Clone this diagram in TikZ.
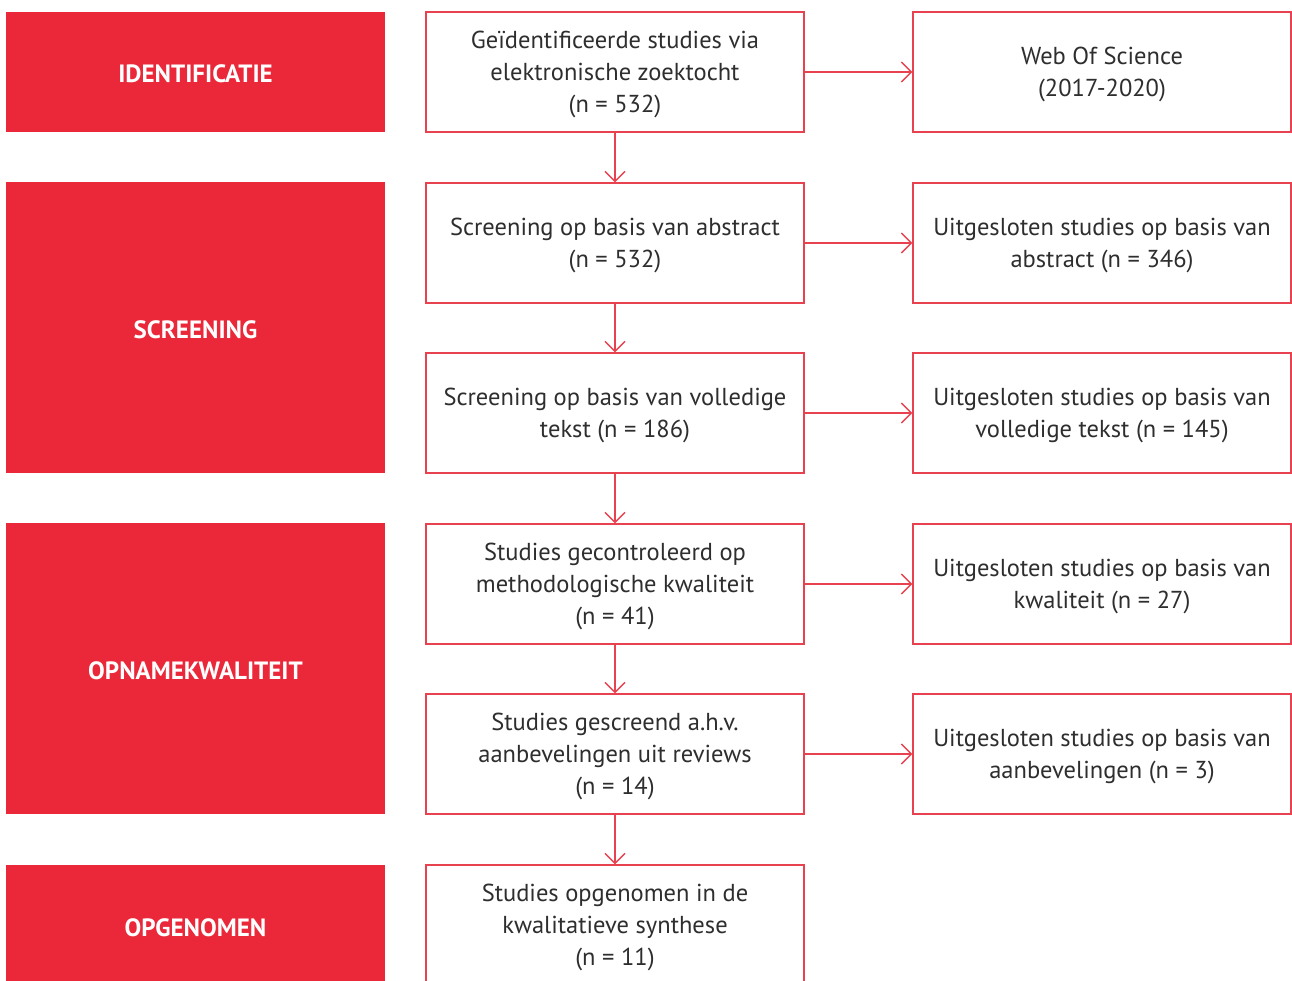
\documentclass[tikz,border=0pt]{standalone}
\usepackage{fontspec}
\setmainfont{PT Sans}
\usetikzlibrary{arrows.meta}
\definecolor{redfill}{HTML}{EA2839}
\definecolor{redline}{HTML}{E8414F}
\definecolor{txt}{HTML}{2E2E2E}
\begin{document}
\begin{tikzpicture}[x=1pt,y=-1pt,
  phase/.style={fill=redfill,draw=none,text=white,inner sep=0pt,text height=22pt,text depth=0pt,
    font=\fontsize{25}{30}\selectfont\bfseries},
  stepbox/.style={draw=redline,line width=1.4pt,fill=white,minimum width=378pt,minimum height=120pt,
    inner sep=0pt,align=center,text=txt,font=\fontsize{24.5}{32}\selectfont,text depth=-1pt},
  conn/.style={draw=redline,line width=1.4pt,-{Straight Barb[length=10pt,width=20pt,line width=1.4pt]}}]
\useasboundingbox (0,0) rectangle (1292,981);
\clip (0,0) rectangle (1292,981);
% phase bars
\node[phase,minimum width=379pt,minimum height=120pt] (p1) at (195.5,72) {IDENTIFICATIE};
\node[phase,minimum width=379pt,minimum height=291pt] (p2) at (195.5,327.5) {SCREENING};
\node[phase,minimum width=379pt,minimum height=291pt] (p3) at (195.5,668.5) {OPNAMEKWALITEIT};
\node[phase,minimum width=379pt,minimum height=120pt] (p4) at (195.5,925) {OPGENOMEN};
% middle column
\node[stepbox] (m1) at (615,72) {Geïdentificeerde studies via\\elektronische zoektocht\\(n = 532)};
\node[stepbox] (m2) at (615,243) {Screening op basis van abstract\\(n = 532)};
\node[stepbox] (m3) at (615,413) {Screening op basis van volledige\\tekst (n = 186)};
\node[stepbox] (m4) at (615,584) {Studies gecontroleerd op\\methodologische kwaliteit\\(n = 41)};
\node[stepbox] (m5) at (615,754) {Studies gescreend a.h.v.\\aanbevelingen uit reviews\\(n = 14)};
\node[stepbox] (m6) at (615,925) {Studies opgenomen in de\\kwalitatieve synthese\\(n = 11)};
% right column
\node[stepbox] (r1) at (1102,72) {Web Of Science\\(2017-2020)};
\node[stepbox] (r2) at (1102,243) {Uitgesloten studies op basis van\\abstract (n = 346)};
\node[stepbox] (r3) at (1102,413) {Uitgesloten studies op basis van\\volledige tekst (n = 145)};
\node[stepbox] (r4) at (1102,584) {Uitgesloten studies op basis van\\kwaliteit (n = 27)};
\node[stepbox] (r5) at (1102,754) {Uitgesloten studies op basis van\\aanbevelingen (n = 3)};
% connectors
\foreach \i in {1,...,5}{\draw[conn] (m\i.east) -- (r\i.west);}
\draw[conn] (m1.south) -- (m2.north);
\draw[conn] (m2.south) -- (m3.north);
\draw[conn] (m3.south) -- (m4.north);
\draw[conn] (m4.south) -- (m5.north);
\draw[conn] (m5.south) -- (m6.north);
\end{tikzpicture}
\end{document}
